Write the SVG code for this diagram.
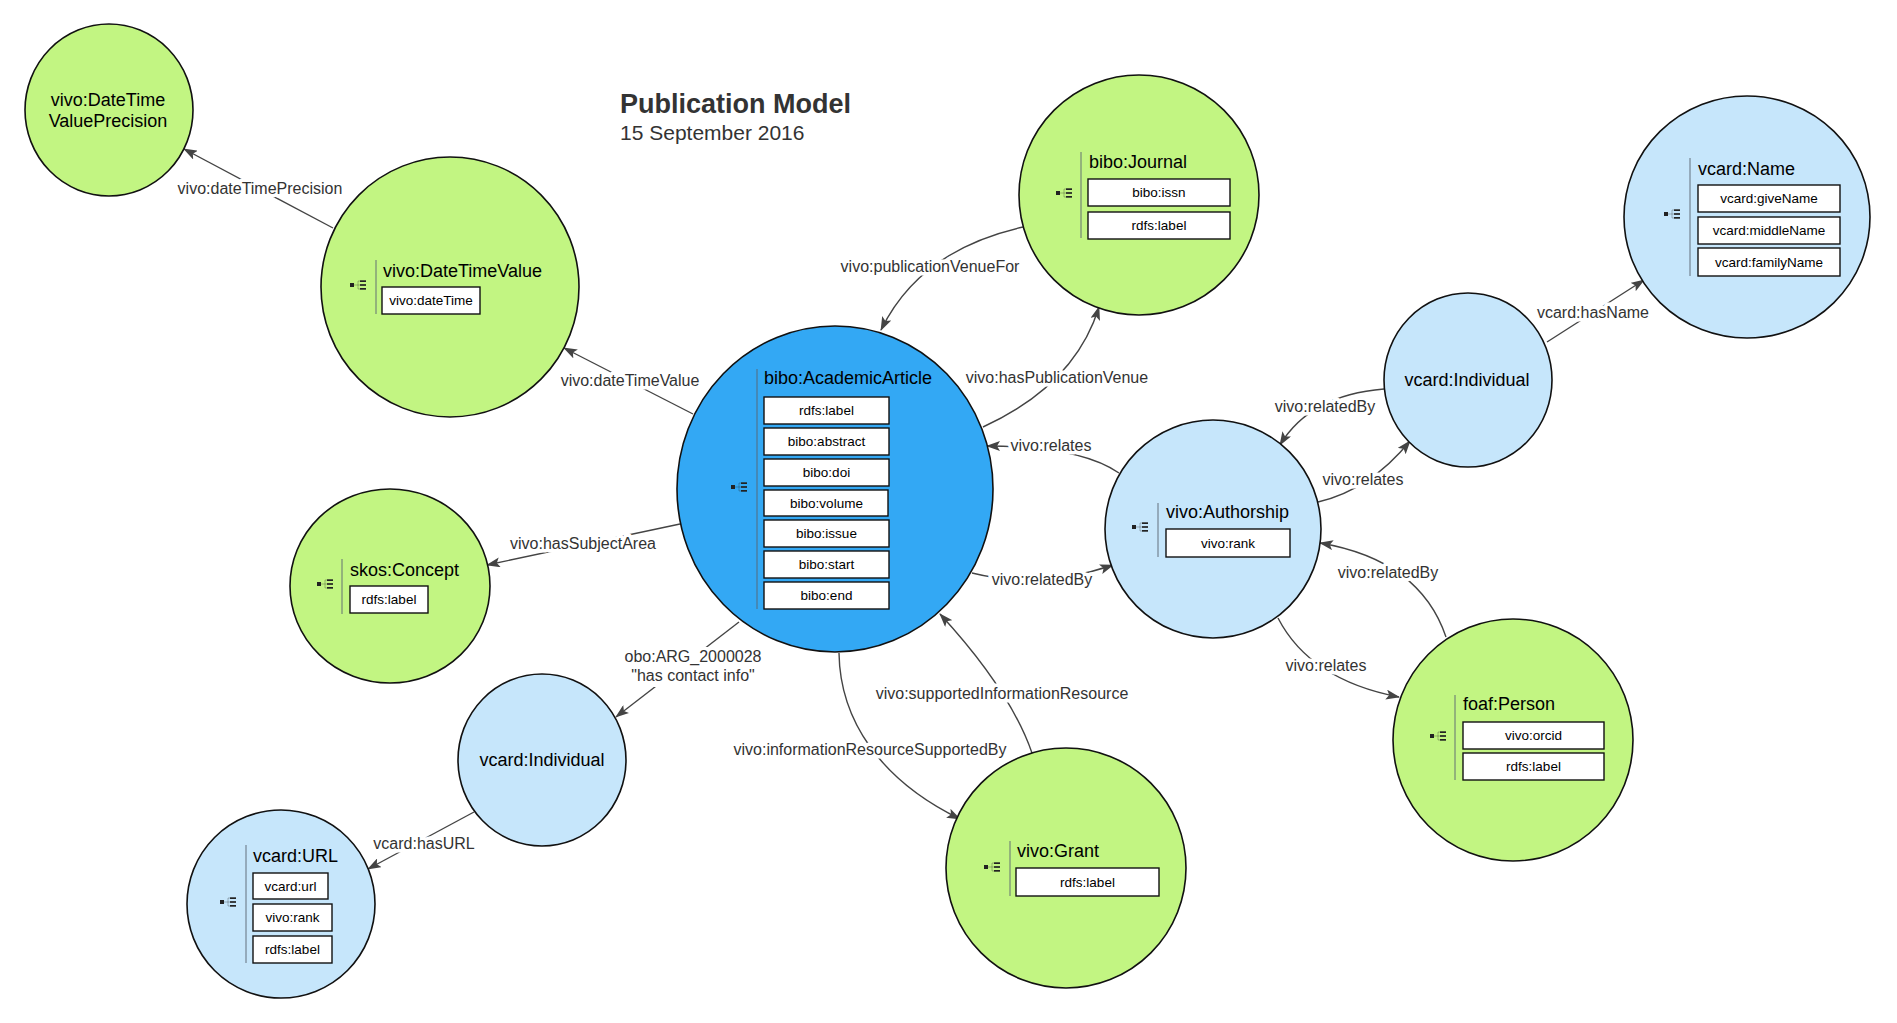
<svg xmlns="http://www.w3.org/2000/svg" xmlns:xlink="http://www.w3.org/1999/xlink" width="1897" height="1023" viewBox="0 0 1897 1023">
<style>
.g{fill:#C2F582;stroke:#111;stroke-width:1.6}
.b{fill:#33A8F4;stroke:#111;stroke-width:1.6}
.lb{fill:#C6E6FB;stroke:#111;stroke-width:1.6}
.t{font-family:"Liberation Sans",Arial,sans-serif;font-size:18px;fill:#000}
.tc{font-family:"Liberation Sans",Arial,sans-serif;font-size:18px;fill:#000;text-anchor:middle}
.box{fill:#fff;stroke:#111;stroke-width:1.4}
.bt{font-family:"Liberation Sans",Arial,sans-serif;font-size:13.5px;fill:#000;text-anchor:middle}
.div{stroke:#5a6570;stroke-width:1.3;stroke-opacity:0.7}
.e{fill:none;stroke:#444;stroke-width:1.4;marker-end:url(#arr)}
.el{font-family:"Liberation Sans",Arial,sans-serif;font-size:16px;fill:#333;text-anchor:middle;stroke:#fff;stroke-width:7px;paint-order:stroke;stroke-linejoin:round}
.el2{font-family:"Liberation Sans",Arial,sans-serif;font-size:16px;fill:#333;text-anchor:middle}
.title{font-family:"Liberation Sans",Arial,sans-serif;font-size:27px;font-weight:bold;fill:#333}
.sub{font-family:"Liberation Sans",Arial,sans-serif;font-size:21px;fill:#333}
</style>
<defs>
<marker id="arr" markerWidth="14" markerHeight="10" refX="13" refY="5" orient="auto" markerUnits="userSpaceOnUse">
<path d="M0,0 L14,5 L0,10 L3,5 z" fill="#444"/>
</marker>
<g id="icon">
<rect x="0" y="-2" width="4" height="4" fill="#222"/>
<path d="M8,-4 V4 M4,0 H10 M8,-4 H10 M8,4 H10" stroke="#222" stroke-opacity="0.3" stroke-width="1" fill="none"/>
<rect x="10" y="-4.7" width="6" height="1.7" fill="#222"/>
<rect x="10" y="-0.85" width="6" height="1.7" fill="#222"/>
<rect x="10" y="3" width="6" height="1.7" fill="#222"/>
</g>
</defs>
<rect width="1897" height="1023" fill="#fff"/>

<g id="heading">
<text class="title" x="620" y="113">Publication Model</text>
<text class="sub" x="620" y="140">15 September 2016</text>
</g>

<g id="connectors">
<path class="e" d="M333,228 L184,149"/>
<path class="e" d="M693,414 L564,348"/>
<path class="e" d="M680,524 L487,565"/>
<path class="e" d="M739,622 L616,717"/>
<path class="e" d="M474,812 L368,869"/>
<path class="e" d="M839,653 C840,720 880,780 960,819"/>
<path class="e" d="M1032,753 Q1010,690 940,614"/>
<path class="e" d="M1023,227 Q920,250 881,330"/>
<path class="e" d="M983,427 Q1075,385 1099,307"/>
<path class="e" d="M1119,473 Q1080,446 987,446"/>
<path class="e" d="M972,573 Q1040,590 1113,565"/>
<path class="e" d="M1384,389 Q1310,395 1280,445"/>
<path class="e" d="M1318,502 Q1370,490 1410,441"/>
<path class="e" d="M1446,637 Q1420,560 1320,543"/>
<path class="e" d="M1278,618 Q1310,680 1399,697"/>
<path class="e" d="M1547,342 L1644,280"/>
<text class="el" x="260" y="194">vivo:dateTimePrecision</text>
<text class="el" x="630" y="386">vivo:dateTimeValue</text>
<text class="el" x="583" y="549">vivo:hasSubjectArea</text>
<rect x="621" y="647" width="146" height="40" fill="#fff"/>
<text class="el2" x="693" y="662">obo:ARG_2000028</text>
<text class="el2" x="693" y="681">"has contact info"</text>
<text class="el" x="424" y="849">vcard:hasURL</text>
<text class="el" x="870" y="755">vivo:informationResourceSupportedBy</text>
<text class="el" x="1002" y="699">vivo:supportedInformationResource</text>
<text class="el" x="930" y="272">vivo:publicationVenueFor</text>
<text class="el" x="1057" y="383">vivo:hasPublicationVenue</text>
<text class="el" x="1051" y="451">vivo:relates</text>
<text class="el" x="1042" y="585">vivo:relatedBy</text>
<text class="el" x="1325" y="412">vivo:relatedBy</text>
<text class="el" x="1363" y="485">vivo:relates</text>
<text class="el" x="1388" y="578">vivo:relatedBy</text>
<text class="el" x="1326" y="671">vivo:relates</text>
<text class="el" x="1593" y="318">vcard:hasName</text>
</g>

<g id="node-datetimevalueprecision">
<ellipse class="g" cx="109" cy="110" rx="84" ry="86"/>
<text class="tc" x="108" y="106">vivo:DateTime</text>
<text class="tc" x="108" y="127">ValuePrecision</text>
</g>

<g id="node-datetimevalue">
<ellipse class="g" cx="450" cy="287" rx="129" ry="130"/>
<use xlink:href="#icon" x="350" y="285"/>
<line class="div" x1="376" y1="260" x2="376" y2="314"/>
<text class="t" x="383" y="277">vivo:DateTimeValue</text>
<rect class="box" x="382" y="287" width="98" height="27"/>
<text class="bt" x="431" y="305">vivo:dateTime</text>
</g>

<g id="node-academicarticle">
<ellipse class="b" cx="835" cy="489" rx="158" ry="163"/>
<use xlink:href="#icon" x="731" y="487"/>
<line class="div" x1="757" y1="369" x2="757" y2="609"/>
<text class="t" x="764" y="384">bibo:AcademicArticle</text>
<rect class="box" x="764" y="397" width="125" height="27"/>
<text class="bt" x="826.5" y="415">rdfs:label</text>
<rect class="box" x="764" y="428" width="125" height="27"/>
<text class="bt" x="826.5" y="446">bibo:abstract</text>
<rect class="box" x="764" y="459" width="125" height="27"/>
<text class="bt" x="826.5" y="477">bibo:doi</text>
<rect class="box" x="764" y="490" width="124" height="26"/>
<text class="bt" x="826.5" y="508">bibo:volume</text>
<rect class="box" x="764" y="520" width="125" height="27"/>
<text class="bt" x="826.5" y="538">bibo:issue</text>
<rect class="box" x="764" y="551" width="125" height="27"/>
<text class="bt" x="826.5" y="569">bibo:start</text>
<rect class="box" x="764" y="582" width="125" height="27"/>
<text class="bt" x="826.5" y="600">bibo:end</text>
</g>

<g id="node-journal">
<ellipse class="g" cx="1139" cy="195" rx="120" ry="120"/>
<use xlink:href="#icon" x="1056" y="193"/>
<line class="div" x1="1081" y1="152" x2="1081" y2="238"/>
<text class="t" x="1089" y="168">bibo:Journal</text>
<rect class="box" x="1088" y="179" width="142" height="27"/>
<text class="bt" x="1159" y="197">bibo:issn</text>
<rect class="box" x="1088" y="212" width="142" height="27"/>
<text class="bt" x="1159" y="230">rdfs:label</text>
</g>

<g id="node-concept">
<ellipse class="g" cx="390" cy="586" rx="100" ry="97"/>
<use xlink:href="#icon" x="317" y="584"/>
<line class="div" x1="342" y1="559" x2="342" y2="614"/>
<text class="t" x="350" y="576">skos:Concept</text>
<rect class="box" x="350" y="586" width="78" height="27"/>
<text class="bt" x="389" y="604">rdfs:label</text>
</g>

<g id="node-vcard-individual-contact">
<ellipse class="lb" cx="542" cy="760" rx="84" ry="86"/>
<text class="tc" x="542" y="766">vcard:Individual</text>
</g>

<g id="node-url">
<ellipse class="lb" cx="281" cy="904" rx="94" ry="94"/>
<use xlink:href="#icon" x="220" y="902"/>
<line class="div" x1="246" y1="845" x2="246" y2="963"/>
<text class="t" x="253" y="862">vcard:URL</text>
<rect class="box" x="253" y="873" width="75" height="26"/>
<text class="bt" x="290.5" y="891">vcard:url</text>
<rect class="box" x="253" y="904" width="79" height="27"/>
<text class="bt" x="292.5" y="922">vivo:rank</text>
<rect class="box" x="253" y="936" width="79" height="27"/>
<text class="bt" x="292.5" y="954">rdfs:label</text>
</g>

<g id="node-grant">
<ellipse class="g" cx="1066" cy="868" rx="120" ry="120"/>
<use xlink:href="#icon" x="984" y="867"/>
<line class="div" x1="1010" y1="841" x2="1010" y2="896"/>
<text class="t" x="1017" y="857">vivo:Grant</text>
<rect class="box" x="1016" y="868" width="143" height="28"/>
<text class="bt" x="1087.5" y="887">rdfs:label</text>
</g>

<g id="node-authorship">
<ellipse class="lb" cx="1213" cy="529" rx="108" ry="109"/>
<use xlink:href="#icon" x="1132" y="527"/>
<line class="div" x1="1158" y1="503" x2="1158" y2="557"/>
<text class="t" x="1166" y="518">vivo:Authorship</text>
<rect class="box" x="1166" y="529" width="124" height="28"/>
<text class="bt" x="1228" y="548">vivo:rank</text>
</g>

<g id="node-person">
<ellipse class="g" cx="1513" cy="740" rx="120" ry="121"/>
<use xlink:href="#icon" x="1430" y="736"/>
<line class="div" x1="1455" y1="695" x2="1455" y2="780"/>
<text class="t" x="1463" y="710">foaf:Person</text>
<rect class="box" x="1463" y="722" width="141" height="27"/>
<text class="bt" x="1533.5" y="740">vivo:orcid</text>
<rect class="box" x="1463" y="753" width="141" height="27"/>
<text class="bt" x="1533.5" y="771">rdfs:label</text>
</g>

<g id="node-vcard-individual-author">
<ellipse class="lb" cx="1468" cy="380" rx="84" ry="87"/>
<text class="tc" x="1467" y="386">vcard:Individual</text>
</g>

<g id="node-name">
<ellipse class="lb" cx="1747" cy="217" rx="123" ry="121"/>
<use xlink:href="#icon" x="1664" y="214"/>
<line class="div" x1="1690" y1="158" x2="1690" y2="276"/>
<text class="t" x="1698" y="175">vcard:Name</text>
<rect class="box" x="1698" y="185" width="142" height="27"/>
<text class="bt" x="1769" y="203">vcard:giveName</text>
<rect class="box" x="1698" y="217" width="142" height="27"/>
<text class="bt" x="1769" y="235">vcard:middleName</text>
<rect class="box" x="1698" y="248" width="142" height="28"/>
<text class="bt" x="1769" y="267">vcard:familyName</text>
</g>
</svg>
